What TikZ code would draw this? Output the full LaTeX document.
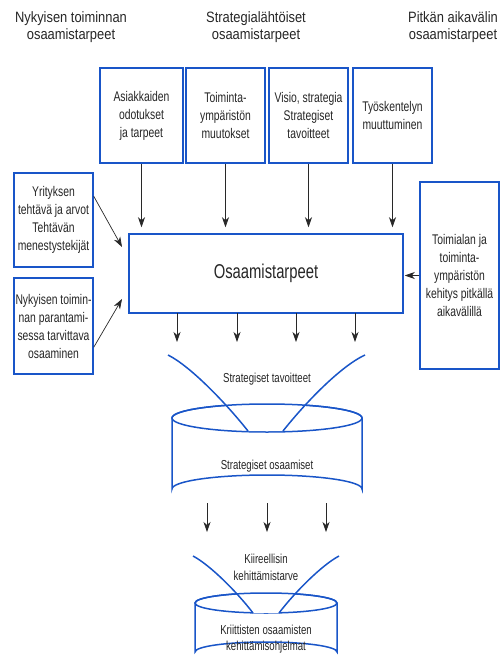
\documentclass[tikz,border=0pt]{standalone}
\usepackage{fontspec}
\setmainfont{Liberation Sans}
\newfontfamily\condA{Liberation Sans}[FakeStretch=0.74]
\newfontfamily\condB{Liberation Sans}[FakeStretch=0.86]
\usetikzlibrary{arrows.meta}
\definecolor{boxblue}{RGB}{25,85,200}
\definecolor{arrowgray}{RGB}{40,40,40}
\begin{document}
\begin{tikzpicture}[x=1pt,y=-1pt,
  bbox/.style={draw=boxblue, line width=1.5pt, fill=white, inner sep=0pt, align=center,
    font=\condA\fontsize{14}{18}\selectfont, text=black!85},
  head/.style={align=center, font=\condB\fontsize{15}{17}\selectfont, text=black!85},
  ctext/.style={align=center, font=\condA\fontsize{13}{17}\selectfont, text=black!85},
  arr/.style={draw=arrowgray, line width=0.7pt, -{Stealth[length=10pt,width=7pt,inset=3pt]}},
  blueline/.style={draw=boxblue, line width=1.5pt}]
\useasboundingbox (0,0) rectangle (501,666);

% headers
\node[head] (h1) at (71,27) {Nykyisen toiminnan\\osaamistarpeet};
\node[head] (h2) at (256,27) {Strategialähtöiset\\osaamistarpeet};
\node[head] (h3) at (453,27) {Pitkän aikavälin\\osaamistarpeet};

% top boxes
\node[bbox, minimum width=83pt, minimum height=95pt] (b1) at (141.5,115.5) {Asiakkaiden\\odotukset\\ja tarpeet};
\node[bbox, minimum width=79pt, minimum height=95pt] (b2) at (225.5,115.5) {Toiminta-\\ympäristön\\muutokset};
\node[bbox, minimum width=79pt, minimum height=95pt] (b3) at (308.5,115.5) {Visio, strategia\\Strategiset\\tavoitteet};
\node[bbox, minimum width=79pt, minimum height=95pt] (b4) at (392.5,115.5) {Työskentelyn\\muuttuminen};

% main box
\node[bbox, minimum width=274pt, minimum height=79pt, font=\condA\fontsize{20}{24}\selectfont] (m) at (266,273.5) {Osaamistarpeet};

% side boxes
\node[bbox, minimum width=79pt, minimum height=94pt] (l1) at (53.5,220) {Yrityksen\\tehtävä ja arvot\\Tehtävän\\menestystekijät};
\node[bbox, minimum width=79pt, minimum height=96pt] (l2) at (53.5,326) {Nykyisen toimin-\\nan parantami-\\sessa tarvittava\\osaaminen};
\node[bbox, minimum width=79pt, minimum height=187pt] (r) at (459.5,275.5) {Toimialan ja\\toiminta-\\ympäristön\\kehitys pitkällä\\aikavälillä};

% arrows into main box
\foreach \b in {b1,b2,b3,b4}
  \draw[arr, shorten >=6pt] (\b.south) -- (\b.south |- m.north);
\coordinate (t1) at (122,247);
\coordinate (t2) at (122,299);
\draw[arr] ([yshift=-24pt]l1.north east) -- (t1);
\draw[arr] ([yshift=-70pt]l2.north east) -- (t2);
\draw[arr, shorten >=1pt] (r.west) -- (r.west -| m.east);

% arrows out of main box
\foreach \x [count=\i] in {177,237,296,355} {
  \coordinate (mo\i) at (\x,313);
  \coordinate (me\i) at (\x,342);
  \draw[arr] (mo\i) -- (me\i);
}

% cylinder 1
\draw[blueline, fill=white] (172,418) -- (172,489) arc[start angle=180, end angle=360, x radius=95, y radius=14] -- (362,418);
\draw[blueline] (267,418) ellipse[x radius=95, y radius=14];
% funnel 1
\fill[white] (168,355) .. controls (190,366) and (225,402) .. (248,431) -- (283,431) .. controls (306,402) and (341,366) .. (365,355) -- cycle;
\draw[blueline] (172,418) arc[start angle=180, end angle=360, x radius=95, y radius=14];
\draw[blueline] (168,355) .. controls (190,366) and (225,402) .. (248,431);
\draw[blueline] (365,355) .. controls (341,366) and (306,402) .. (283,431);
\node[ctext] (st) at (267,379) {Strategiset tavoitteet};
\node[ctext] (so) at (267,466) {Strategiset osaamiset};

% arrows out of cylinder 1
\foreach \x [count=\i] in {207,267,326} {
  \coordinate (co\i) at (\x,503);
  \coordinate (ce\i) at (\x,532);
  \draw[arr] (co\i) -- (ce\i);
}

% cylinder 2
\draw[blueline, fill=white] (195,603) -- (195,652) arc[start angle=180, end angle=360, x radius=71, y radius=10] -- (337,603);
\draw[blueline] (266,603) ellipse[x radius=71, y radius=10];
\fill[white] (193,556) .. controls (210,565) and (237,592) .. (253,613) -- (279,613) .. controls (295,592) and (322,565) .. (339,556) -- cycle;
\draw[blueline] (195,603) arc[start angle=180, end angle=360, x radius=71, y radius=10];
\draw[blueline] (193,556) .. controls (210,565) and (237,592) .. (253,613);
\draw[blueline] (339,556) .. controls (322,565) and (295,592) .. (279,613);
\node[ctext] (ki) at (266,567) {Kiireellisin\\kehittämistarve};
\node[ctext, font=\condA\fontsize{13}{16}\selectfont] (ko) at (266,639) {Kriittisten osaamisten\\kehittämisohjelmat};
\end{tikzpicture}
\end{document}
